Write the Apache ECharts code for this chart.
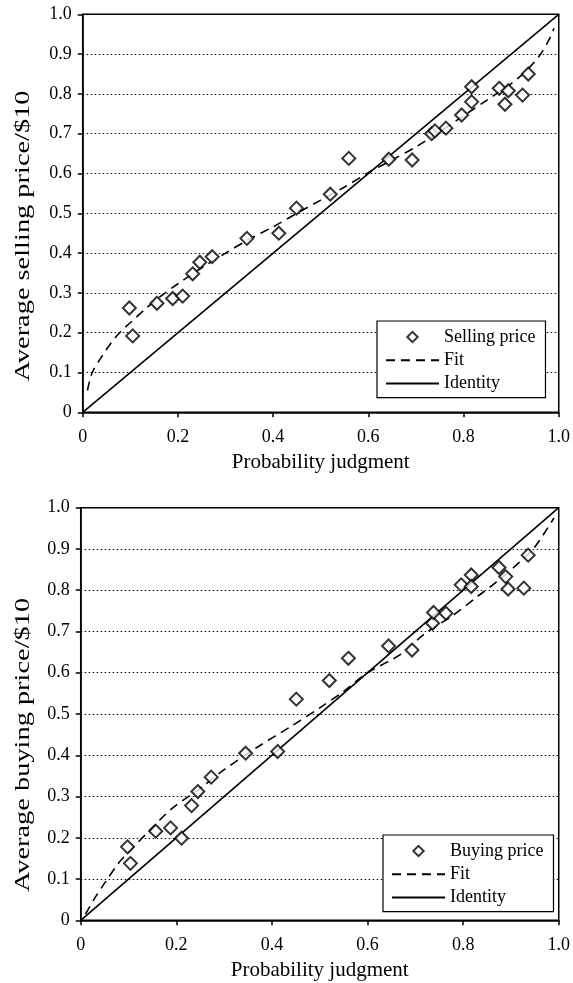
<!DOCTYPE html>
<html>
<head>
<meta charset="utf-8">
<script src="https://cdn.jsdelivr.net/npm/echarts@6/dist/echarts.min.js"></script>
<style>
html,body{margin:0;padding:0;background:#fff;}
#c{width:573px;height:983px;}
</style>
</head>
<body>
<div id="c"></div>
<script>
// ---- Data ----
var sellX = [0.098,0.105,0.156,0.189,0.210,0.231,0.246,0.272,0.345,0.412,0.449,0.520,0.559,0.643,0.692,0.733,0.740,0.763,0.796,0.817,0.817,0.875,0.887,0.894,0.924,0.936];
var sellY = [0.262,0.192,0.274,0.286,0.292,0.348,0.377,0.391,0.437,0.450,0.513,0.548,0.638,0.636,0.634,0.700,0.707,0.714,0.747,0.818,0.780,0.814,0.774,0.808,0.797,0.850];
var sellFitX = [0.01,0.02,0.04,0.06,0.08,0.10,0.13,0.16,0.20,0.25,0.30,0.35,0.40,0.45,0.50,0.55,0.60,0.65,0.70,0.75,0.80,0.85,0.90,0.93,0.96,0.98,0.99];
var sellFitY = [0.055,0.10,0.14,0.175,0.203,0.225,0.258,0.288,0.323,0.363,0.400,0.435,0.466,0.500,0.533,0.566,0.602,0.634,0.667,0.705,0.745,0.785,0.826,0.856,0.897,0.937,0.965];

var buyX = [0.098,0.104,0.157,0.188,0.211,0.232,0.245,0.273,0.345,0.412,0.451,0.520,0.560,0.644,0.693,0.736,0.738,0.764,0.796,0.817,0.817,0.875,0.889,0.894,0.927,0.936];
var buyY = [0.178,0.138,0.216,0.224,0.199,0.278,0.312,0.347,0.405,0.409,0.536,0.581,0.635,0.665,0.655,0.720,0.746,0.744,0.813,0.837,0.809,0.855,0.833,0.803,0.805,0.885];
var buyFitX = [0.01,0.03,0.05,0.08,0.10,0.14,0.19,0.25,0.30,0.37,0.44,0.50,0.55,0.60,0.67,0.72,0.78,0.83,0.87,0.92,0.95,0.99];
var buyFitY = [0.015,0.055,0.090,0.140,0.165,0.213,0.270,0.320,0.365,0.420,0.470,0.515,0.555,0.600,0.645,0.695,0.740,0.785,0.820,0.870,0.905,0.975];

var identityX = [0, 1];
var identityY = [0, 1];

var xTickLabels = ['0','0.2','0.4','0.6','0.8','1.0'];
var yTickLabels = ['0','0.1','0.2','0.3','0.4','0.5','0.6','0.7','0.8','0.9','1.0'];
var xTitle = 'Probability judgment';
var yTitles = ['Average selling price/$10', 'Average buying price/$10'];
var legendNames = [['Selling price','Fit','Identity'], ['Buying price','Fit','Identity']];

function pairs(xs, ys){ return xs.map(function(x,i){ return [x, ys[i]]; }); }

var FONT = 'Liberation Serif';
var chart = echarts.init(document.getElementById('c'), null, {renderer:'canvas'});

function xAxisCfg(gi){
  return {
    type:'value', gridIndex:gi, min:0, max:1, interval:0.2,
    name:xTitle, nameLocation:'middle', nameGap:40,
    nameTextStyle:{fontFamily:FONT, fontSize:21, color:'#000'},
    axisLine:{show:true, onZero:false, lineStyle:{color:'#000', width:1.5}},
    axisTick:{show:true, inside:false, length:5, lineStyle:{color:'#000', width:1.5}},
    axisLabel:{fontFamily:FONT, fontSize:18, color:'#000', margin:16,
      formatter:function(v){ return xTickLabels[Math.round(v/0.2)]; }},
    splitLine:{show:false}
  };
}
function yAxisCfg(gi){
  return {
    type:'value', gridIndex:gi, min:0, max:1, interval:0.1,
    axisLine:{show:true, onZero:false, lineStyle:{color:'#000', width:1.5}},
    axisTick:{show:true, inside:false, length:5, lineStyle:{color:'#000', width:1.5}},
    axisLabel:{fontFamily:FONT, fontSize:18, color:'#000', margin:11,
      formatter:function(v){ return yTickLabels[Math.round(v/0.1)]; }},
    splitLine:{show:true, lineStyle:{color:'#000', width:1, type:[1.5,2.5]}}
  };
}
var diamondIcon = 'path://M-0.35,-0.35L-0.35,-0.35M2.35,2.35L2.35,2.35M0,1L1,0L2,1L1,2Z';
var hidden = {color:'rgba(0,0,0,0)', borderWidth:0, opacity:0};
function legendCfg(left, top, names){
  return {
    orient:'vertical', left:left, top:top,
    data:[
      {name:names[0], icon:diamondIcon},
      {name:names[1], itemStyle:hidden},
      {name:names[2], itemStyle:hidden}
    ],
    symbolKeepAspect:true,
    backgroundColor:'#fff', borderColor:'#000', borderWidth:1.2,
    padding:[7,10,5,8], itemGap:5.3, itemWidth:53, itemHeight:14,
    textStyle:{fontFamily:FONT, fontSize:18, color:'#000'},
    selectedMode:false
  };
}
function scatterSeries(name, gi, xs, ys){
  return {name:name, type:'scatter', xAxisIndex:gi, yAxisIndex:gi,
    data:pairs(xs,ys), symbol:'diamond', symbolSize:13, z:5,
    itemStyle:{color:'#fff', borderColor:'#000', borderWidth:2}};
}
function lineSeries(name, gi, xs, ys, dashed){
  return {name:name, type:'line', xAxisIndex:gi, yAxisIndex:gi,
    data:pairs(xs,ys), symbol:'none', smooth:dashed ? 0.3 : false, z:dashed?4:3,
    itemStyle:{color:'#000'},
    lineStyle:{color:'#000', width:1.6, type: dashed ? [9,6] : 'solid'}};
}
function yTitle(text, x, y){
  return {type:'text', x:x, y:y, rotation:Math.PI/2, scaleX:1.29, scaleY:1,
    style:{text:text, fill:'#000', fontFamily:FONT, fontSize:22, align:'center', verticalAlign:'middle'}};
}

chart.setOption({
  animation:false,
  backgroundColor:'#fff',
  grid:[
    {left:82.7, top:14.3, width:477, height:398, show:true, borderColor:'#000', borderWidth:1.5, backgroundColor:'transparent'},
    {left:80.7, top:507.7, width:479.3, height:412.6, show:true, borderColor:'#000', borderWidth:1.5, backgroundColor:'transparent'}
  ],
  xAxis:[xAxisCfg(0), xAxisCfg(1)],
  yAxis:[yAxisCfg(0), yAxisCfg(1)],
  legend:[legendCfg(377,321,legendNames[0]), legendCfg(383,835,legendNames[1])],
  graphic:[yTitle(yTitles[0], 23, 236), yTitle(yTitles[1], 23, 745)],
  series:[
    scatterSeries(legendNames[0][0],0,sellX,sellY),
    lineSeries('Fit',0,sellFitX,sellFitY,true),
    lineSeries('Identity',0,identityX,identityY,false),
    scatterSeries(legendNames[1][0],1,buyX,buyY),
    lineSeries('Fit',1,buyFitX,buyFitY,true),
    lineSeries('Identity',1,identityX,identityY,false)
  ]
});
</script>
</body>
</html>
